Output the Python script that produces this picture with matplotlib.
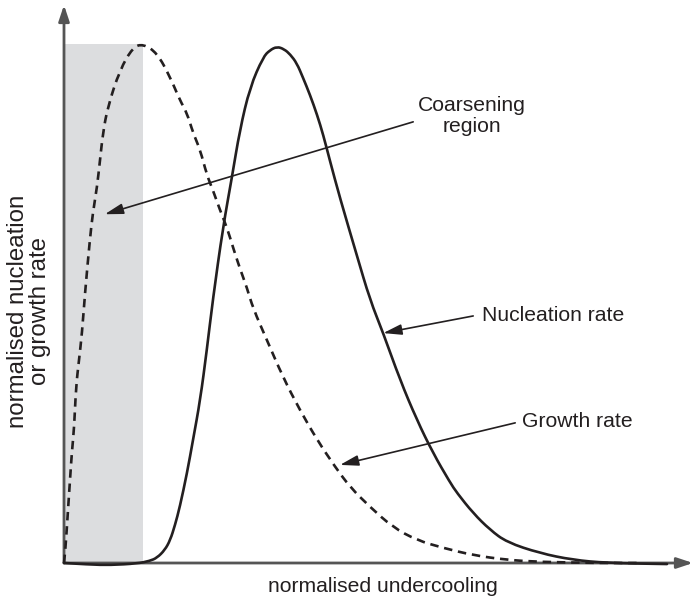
import numpy as np
import matplotlib
matplotlib.use("Agg")
import matplotlib.pyplot as plt
from matplotlib.path import Path
from matplotlib.patches import PathPatch

plt.rcParams['font.family'] = ['Liberation Sans', 'DejaVu Sans']

# Normalised undercooling (x) vs normalised rate (y)
growth_x = [0, 0.002, 0.007, 0.010, 0.013, 0.017, 0.020, 0.025, 0.030, 0.035,
            0.043, 0.048, 0.055, 0.060, 0.065, 0.073, 0.093, 0.115, 0.132, 0.155,
            0.177, 0.193, 0.205, 0.215, 0.227, 0.238, 0.248, 0.260, 0.272, 0.282,
            0.293, 0.305, 0.315, 0.338, 0.365, 0.393, 0.422, 0.452, 0.477, 0.510,
            0.548, 0.588, 0.632, 0.682, 0.738, 0.793, 0.893, 0.960]
growth_y = [0, 0.019, 0.108, 0.160, 0.212, 0.262, 0.339, 0.391, 0.443, 0.520,
            0.622, 0.674, 0.724, 0.776, 0.829, 0.879, 0.950, 0.994, 1.000, 0.983,
            0.936, 0.892, 0.867, 0.829, 0.796, 0.748, 0.719, 0.680, 0.645, 0.607,
            0.568, 0.530, 0.491, 0.430, 0.358, 0.295, 0.237, 0.185, 0.146, 0.108,
            0.069, 0.044, 0.029, 0.015, 0.006, 0.002, 0.0, 0.0]

nucleation_x = [0, 0.043, 0.077, 0.122, 0.143, 0.155, 0.168, 0.177, 0.185, 0.193,
                0.205, 0.215, 0.227, 0.238, 0.248, 0.265, 0.280, 0.293, 0.310, 0.332,
                0.343, 0.355, 0.367, 0.377, 0.388, 0.398, 0.410, 0.422, 0.432, 0.443,
                0.460, 0.488, 0.510, 0.532, 0.560, 0.588, 0.615, 0.643, 0.655, 0.682,
                0.710, 0.738, 0.793, 0.848, 0.905, 1.005]
nucleation_y = [0, -0.003, -0.004, -0.001, 0.004, 0.010, 0.025, 0.044, 0.073, 0.108,
                0.173, 0.237, 0.314, 0.410, 0.507, 0.647, 0.744, 0.834, 0.917, 0.975,
                0.988, 0.995, 0.990, 0.980, 0.963, 0.936, 0.902, 0.863, 0.825, 0.776,
                0.703, 0.593, 0.507, 0.443, 0.353, 0.276, 0.212, 0.156, 0.135, 0.096,
                0.064, 0.040, 0.019, 0.006, 0.0, -0.002]

ink = '#231f20'
axis_grey = '#555555'
shade = '#dcdddf'


def smooth_path(xs, ys):
    """Quadratic Bezier path using the samples as control points."""
    pts = np.column_stack([xs, ys])
    verts = [pts[0]]
    codes = [Path.MOVETO]
    for i in range(1, len(pts) - 1):
        mid = (pts[i] + pts[i + 1]) / 2
        verts += [pts[i], mid]
        codes += [Path.CURVE3, Path.CURVE3]
    verts.append(pts[-1])
    codes.append(Path.LINETO)
    return Path(verts, codes)


fig = plt.figure(figsize=(6.94, 5.98), dpi=100)
ax = fig.add_axes([64 / 694, 35 / 598, 629 / 694, 558 / 598])
ax.set_xlim(0, 629 / 600)
ax.set_ylim(0, 558 / 519)
ax.axis('off')

# Coarsening region: up to the growth-rate maximum
ipk = int(np.argmax(growth_y))
ax.fill_between([0, growth_x[ipk]], 0, growth_y[ipk], color=shade, lw=0, zorder=0)

ax.add_patch(PathPatch(smooth_path(growth_x, growth_y), fill=False, edgecolor=ink,
                       lw=1.9, linestyle=(0, (3.2, 2.2)), clip_on=False, zorder=3))
ax.add_patch(PathPatch(smooth_path(nucleation_x, nucleation_y), fill=False,
                       edgecolor=ink, lw=1.9, clip_on=False, zorder=3,
                       joinstyle='round', capstyle='round'))

# Axes drawn as arrows
axis_arrow = dict(arrowstyle='-|>,head_length=0.6,head_width=0.2', color=axis_grey,
                  lw=2.0, mutation_scale=16, shrinkA=0, shrinkB=0)
ax.annotate('', xy=(1, 0), xytext=(0, 0), xycoords='axes fraction',
            textcoords='axes fraction', arrowprops=axis_arrow, zorder=2)
ax.annotate('', xy=(0, 1), xytext=(0, 0), xycoords='axes fraction',
            textcoords='axes fraction', arrowprops=axis_arrow, zorder=2)

pointer = dict(arrowstyle='-|>,head_length=0.7,head_width=0.2', color=ink,
               lw=1.2, mutation_scale=16, shrinkA=0, shrinkB=0)
fs = 15.2
ax.annotate('', xy=(0.068, 0.672), xytext=(0.582, 0.850), arrowprops=pointer, zorder=4)
ax.text(0.680, 0.861, 'Coarsening\nregion', ha='center', va='center', fontsize=fs,
        color=ink, linespacing=1.15)
ax.annotate('', xy=(0.532, 0.443), xytext=(0.682, 0.476), arrowprops=pointer, zorder=4)
ax.text(0.697, 0.477, 'Nucleation rate', ha='left', va='center', fontsize=fs, color=ink)
ax.annotate('', xy=(0.460, 0.189), xytext=(0.752, 0.270), arrowprops=pointer, zorder=4)
ax.text(0.763, 0.272, 'Growth rate', ha='left', va='center', fontsize=fs, color=ink)

fig.text(383 / 694, 1 - 586 / 598, 'normalised undercooling', ha='center', va='center',
         fontsize=fs, color=ink)
fig.text(29 / 694, 1 - 311 / 598, 'normalised nucleation\nor growth rate', ha='center',
         va='center', rotation=90, fontsize=17.3, color=ink, linespacing=1.0)

fig.savefig('out.png', dpi=100)
